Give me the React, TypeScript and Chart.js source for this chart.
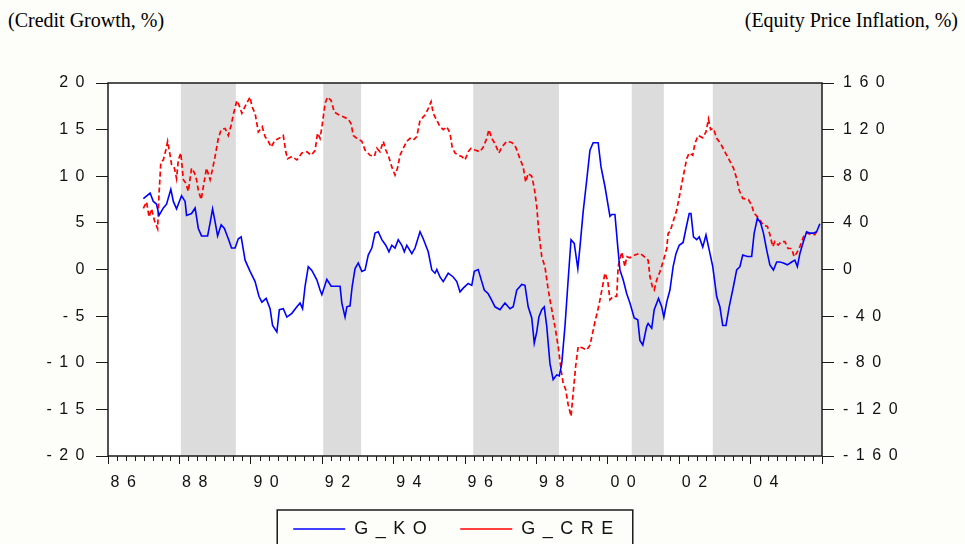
import { useEffect, useRef } from 'react';
import { Chart, registerables } from 'chart.js';

Chart.register(...registerables);

// G_KO: credit growth (%), left axis
const koYears = [
  1986.99, 1987.18, 1987.27, 1987.36, 1987.43, 1987.55, 1987.64, 1987.76, 1987.83, 1987.92,
  1988.06, 1988.16, 1988.2, 1988.34, 1988.44, 1988.53, 1988.62, 1988.79, 1988.86, 1988.93,
  1989.0, 1989.07, 1989.17, 1989.26, 1989.37, 1989.46, 1989.56, 1989.65, 1989.73, 1989.84,
  1989.98, 1990.12, 1990.23, 1990.31, 1990.43, 1990.54, 1990.61, 1990.73, 1990.8, 1990.91,
  1991.01, 1991.15, 1991.29, 1991.38, 1991.45, 1991.52, 1991.61, 1991.71, 1991.85, 1991.94,
  1991.99, 1992.13, 1992.25, 1992.5, 1992.55, 1992.64, 1992.69, 1992.78, 1992.84, 1992.92,
  1993.01, 1993.11, 1993.2, 1993.29, 1993.39, 1993.48, 1993.57, 1993.67, 1993.78, 1993.87,
  1993.95, 1994.04, 1994.13, 1994.23, 1994.3, 1994.37, 1994.51, 1994.6, 1994.74, 1994.83,
  1994.97, 1995.07, 1995.16, 1995.21, 1995.3, 1995.39, 1995.53, 1995.67, 1995.77, 1995.86,
  1995.95, 1996.09, 1996.19, 1996.26, 1996.37, 1996.47, 1996.54, 1996.65, 1996.75, 1996.84,
  1996.98, 1997.12, 1997.26, 1997.35, 1997.45, 1997.59, 1997.68, 1997.77, 1997.87, 1997.94,
  1998.01, 1998.07, 1998.15, 1998.22, 1998.29, 1998.38, 1998.47, 1998.57, 1998.64, 1998.71,
  1998.8, 1998.89, 1998.97, 1999.06, 1999.16, 1999.22, 1999.31, 1999.41, 1999.5, 1999.59,
  1999.73, 1999.81, 1999.92, 2000.06, 2000.11, 2000.2, 2000.28, 2000.34, 2000.43, 2000.53,
  2000.62, 2000.74, 2000.84, 2000.9, 2000.98, 2001.09, 2001.13, 2001.23, 2001.3, 2001.42,
  2001.51, 2001.57, 2001.65, 2001.74, 2001.83, 2001.91, 2002.0, 2002.11, 2002.19, 2002.28,
  2002.33, 2002.4, 2002.49, 2002.56, 2002.66, 2002.75, 2002.84, 2002.94, 2003.05, 2003.14,
  2003.22, 2003.31, 2003.4, 2003.52, 2003.61, 2003.7, 2003.78, 2003.91, 2004.03, 2004.1,
  2004.19, 2004.28, 2004.36, 2004.45, 2004.54, 2004.64, 2004.73, 2004.82, 2004.92, 2005.03,
  2005.15, 2005.24, 2005.31, 2005.38, 2005.48, 2005.57, 2005.66, 2005.76, 2005.85, 2005.94,
];
const koValues = [
  7.6, 8.2, 7.3, 7.0, 5.8, 6.6, 7.0, 8.6, 7.3, 6.5,
  7.9, 7.3, 5.8, 6.0, 6.6, 4.4, 3.6, 3.6, 5.0, 6.5,
  5.1, 3.6, 4.8, 4.4, 3.3, 2.3, 2.3, 3.3, 3.5, 1.0,
  -0.2, -1.3, -2.9, -3.5, -3.1, -4.2, -6.0, -6.7, -4.3, -4.2,
  -5.1, -4.7, -4.0, -3.6, -4.2, -1.8, 0.3, -0.1, -1.1, -2.2,
  -2.7, -1.05, -1.8, -1.8, -3.6, -5.1, -4.0, -3.9, -1.8, 0.1,
  0.7, -0.2, -0.05, 1.55, 2.3, 3.9, 4.05, 3.2, 2.6, 1.9,
  2.6, 2.3, 3.2, 2.6, 1.9, 2.6, 1.7, 2.3, 4.05, 3.3,
  1.9, -0.05, -0.4, 0, -0.8, -1.3, -0.4, -0.8, -1.3, -2.4,
  -2.0, -1.5, -1.7, -0.2, 0, -1.3, -2.2, -2.6, -3.3, -4.0,
  -4.3, -3.6, -4.2, -4.0, -2.2, -1.6, -1.7, -4.0, -5.2, -7.9,
  -6.7, -5.1, -4.3, -4.0, -6.1, -10.1, -11.8, -11.3, -11.4, -10.1,
  -6.1, -1.1, 3.2, 2.8, 0.1, 2.4, 6.2, 9.6, 12.8, 13.6,
  13.6, 11.0, 8.9, 5.7, 5.9, 5.9, 2.4, -0.05, -1.1, -2.6,
  -3.6, -5.2, -5.4, -7.6, -8.1, -6.1, -5.8, -6.3, -4.3, -3.1,
  -4.0, -5.1, -3.5, -2.2, 0.3, 1.7, 2.6, 2.9, 4.4, 6.0,
  6.0, 3.5, 3.2, 3.5, 2.4, 3.7, 2.1, 0.3, -2.9, -4.0,
  -6.0, -6.0, -4.0, -1.8, -0.05, 0.3, 1.55, 1.4, 1.4, 3.9,
  5.5, 5.0, 3.9, 2.1, 0.5, -0.05, 0.8, 0.8, 0.7, 0.5,
  0.8, 1.0, 0.3, 1.7, 3.0, 4.05, 3.9, 3.9, 4.05, 4.9,
];

// G_CRE: equity price inflation (%), right axis
const creYears = [
  1986.99, 1987.08, 1987.15, 1987.22, 1987.3, 1987.39, 1987.43, 1987.48, 1987.55, 1987.62,
  1987.67, 1987.74, 1987.78, 1987.86, 1987.92, 1987.97, 1988.04, 1988.11, 1988.18, 1988.25,
  1988.34, 1988.42, 1988.48, 1988.53, 1988.61, 1988.67, 1988.76, 1988.86, 1988.92, 1989.0,
  1989.09, 1989.17, 1989.28, 1989.37, 1989.45, 1989.52, 1989.61, 1989.67, 1989.75, 1989.84,
  1989.98, 1990.03, 1990.12, 1990.21, 1990.32, 1990.4, 1990.49, 1990.57, 1990.68, 1990.79,
  1990.91, 1990.98, 1991.03, 1991.15, 1991.29, 1991.43, 1991.57, 1991.69, 1991.8, 1991.87,
  1991.94, 1992.0, 1992.08, 1992.15, 1992.25, 1992.34, 1992.45, 1992.59, 1992.73, 1992.81,
  1992.87, 1992.97, 1993.11, 1993.2, 1993.34, 1993.46, 1993.53, 1993.62, 1993.71, 1993.78,
  1993.85, 1993.95, 1994.04, 1994.11, 1994.18, 1994.27, 1994.37, 1994.46, 1994.55, 1994.65,
  1994.74, 1994.88, 1994.97, 1995.05, 1995.11, 1995.21, 1995.3, 1995.39, 1995.49, 1995.58,
  1995.64, 1995.72, 1995.81, 1995.91, 1996.0, 1996.09, 1996.17, 1996.28, 1996.42, 1996.51,
  1996.61, 1996.67, 1996.75, 1996.84, 1996.95, 1997.03, 1997.17, 1997.31, 1997.42, 1997.54,
  1997.63, 1997.7, 1997.77, 1997.87, 1997.94, 1998.01, 1998.07, 1998.15, 1998.24, 1998.32,
  1998.38, 1998.45, 1998.52, 1998.61, 1998.69, 1998.75, 1998.82, 1998.89, 1998.97, 1999.03,
  1999.1, 1999.17, 1999.27, 1999.41, 1999.5, 1999.57, 1999.64, 1999.72, 1999.78, 1999.85,
  1999.92, 2000.0, 2000.06, 2000.15, 2000.25, 2000.29, 2000.39, 2000.48, 2000.53, 2000.62,
  2000.76, 2000.9, 2001.02, 2001.13, 2001.18, 2001.25, 2001.3, 2001.37, 2001.46, 2001.56,
  2001.65, 2001.69, 2001.74, 2001.83, 2001.93, 2002.02, 2002.11, 2002.21, 2002.28, 2002.38,
  2002.44, 2002.53, 2002.66, 2002.75, 2002.82, 2002.88, 2002.96, 2003.05, 2003.16, 2003.28,
  2003.4, 2003.52, 2003.61, 2003.68, 2003.78, 2003.94, 2004.03, 2004.1, 2004.17, 2004.26,
  2004.36, 2004.47, 2004.54, 2004.62, 2004.68, 2004.77, 2004.87, 2004.96, 2005.05, 2005.15,
  2005.22, 2005.29, 2005.38, 2005.48, 2005.57, 2005.68, 2005.8, 2005.85,
];
const creValues = [
  52.5, 58, 45, 52, 42, 35, 65, 92, 94, 102.5,
  110, 98, 90, 87, 78, 94, 100, 77, 74, 67,
  87, 83, 77, 68, 60, 71, 87, 77, 85, 97,
  112.5, 120, 121, 115, 124, 134, 145, 141, 134, 140,
  148, 140, 134, 118, 122.5, 114, 110, 105, 111, 112.5,
  115, 101, 95, 97, 94, 100, 101, 98, 102, 117,
  112.5, 124, 142.5, 148, 145, 135, 133, 131, 129, 125,
  115, 112.5, 110, 102.5, 98, 97, 104, 101, 110, 102.5,
  98, 88, 81, 87, 98, 104, 110, 112.5, 111, 114,
  128, 132.5, 138, 144, 134, 128, 122.5, 120, 122.5, 117,
  105, 100, 98, 97, 94, 101, 104, 102.5, 101, 105,
  112.5, 120, 112.5, 108, 100, 105, 110, 109, 105, 95,
  88, 75, 82.5, 80, 70, 54, 31, 11, 2.4, -15,
  -26, -37.5, -49, -66, -86, -97.6, -103, -116, -126, -106,
  -83, -66, -67, -69, -65, -55, -45, -35, -26, -15,
  -3, -10, -26, -23, -23, 2.4, 15, 2.4, 11, 10,
  12.5, 14, 11, 8, -6, -15, -17.6, -9, -2, 8,
  18, 31, 32.5, 41, 51, 65, 79.6, 95, 100, 98,
  108, 115, 113, 118, 129, 120, 121, 112.5, 108, 101,
  94, 87, 78, 68, 61, 60, 55, 48, 46, 42.5,
  38, 37, 30, 19.6, 24, 21, 24, 24, 18, 18,
  11, 14, 19.6, 28, 31.5, 30, 30, 32.5,
];

// Shaded periods (decimal years)
const shadeStarts = [1988.04, 1992.03, 1996.23, 2000.67, 2002.94];
const shadeEnds = [1989.58, 1993.09, 1998.63, 2001.57, 2006.0];

// Axis ranges
const yearMin = 1986;
const yearMax = 2006;
const yearStep = 2;
const creditMin = -20;
const creditMax = 20;
const creditStep = 5;
const equityMin = -160;
const equityMax = 160;
const equityStep = 40;

const seriesNames = ['G_KO', 'G_CRE'];
const leftTitle = '(Credit Growth, %)';
const rightTitle = '(Equity Price Inflation, %)';

const TEXT_SPACING = '7.5px';
const INK = '#111111';
const SANS = '"Liberation Sans", Arial, sans-serif';

const toPoints = (xs: number[], ys: number[]) =>
  xs.slice(0, Math.min(xs.length, ys.length)).map((x, i) => ({ x, y: ys[i] }));

const yearLabel = (v: number) => (v >= yearMax ? '' : String(Math.round(v) % 100).padStart(2, '0'));

// Wide letter spacing for all canvas text
const spacingPlugin = {
  id: 'spacing',
  beforeUpdate(chart: any) {
    chart.ctx.letterSpacing = TEXT_SPACING;
  },
  beforeLayout(chart: any) {
    chart.ctx.letterSpacing = TEXT_SPACING;
  },
  beforeDraw(chart: any) {
    chart.ctx.letterSpacing = TEXT_SPACING;
  },
};

// White plot area with grey shaded periods
const shadingPlugin = {
  id: 'shading',
  beforeDraw(chart: any) {
    const { ctx, chartArea, scales } = chart;
    const x = scales.x;
    ctx.save();
    ctx.fillStyle = '#ffffff';
    ctx.fillRect(chartArea.left, chartArea.top, chartArea.right - chartArea.left, chartArea.bottom - chartArea.top);
    ctx.fillStyle = '#dcdcdc';
    shadeStarts.forEach((s, i) => {
      const x0 = Math.max(x.getPixelForValue(s), chartArea.left);
      const x1 = Math.min(x.getPixelForValue(shadeEnds[i]), chartArea.right);
      ctx.fillRect(x0, chartArea.top, x1 - x0, chartArea.bottom - chartArea.top);
    });
    ctx.restore();
  },
};

// Plot frame, quarterly minor ticks and the legend border
const framePlugin = {
  id: 'frame',
  afterDatasetsDraw(chart: any) {
    const { ctx, chartArea } = chart;
    ctx.save();
    ctx.strokeStyle = '#1a1a1a';
    ctx.lineWidth = 1.5;
    ctx.strokeRect(chartArea.left, chartArea.top, chartArea.right - chartArea.left, chartArea.bottom - chartArea.top);
    ctx.restore();
  },
  afterDraw(chart: any) {
    const { ctx, chartArea, scales } = chart;
    const x = scales.x;
    ctx.save();
    ctx.strokeStyle = '#1a1a1a';
    ctx.lineWidth = 1;
    ctx.beginPath();
    for (let q = yearMin * 4; q <= yearMax * 4; q++) {
      const t = q / 4;
      if (q % (yearStep * 4) === 0) continue;
      const px = Math.round(x.getPixelForValue(t)) + 0.5;
      ctx.moveTo(px, chartArea.bottom);
      ctx.lineTo(px, chartArea.bottom + 5);
    }
    ctx.stroke();

    const boxes = chart.legend && chart.legend.legendHitBoxes;
    if (boxes && boxes.length) {
      const first = boxes[0];
      const last = boxes[boxes.length - 1];
      const left = first.left - 16;
      const right = last.left + last.width + 12;
      const top = first.top - 10;
      ctx.strokeStyle = '#1a1a1a';
      ctx.lineWidth = 1.5;
      ctx.strokeRect(left, top, right - left, chart.height + 20 - top);
    }
    ctx.restore();
  },
};

export default function App() {
  const canvasRef = useRef<HTMLCanvasElement | null>(null);

  useEffect(() => {
    const canvas = canvasRef.current;
    if (!canvas) return;
    const chart = new Chart(canvas, {
      type: 'line',
      data: {
        datasets: [
          {
            label: seriesNames[0],
            data: toPoints(koYears, koValues),
            yAxisID: 'y',
            borderColor: '#0000ff',
            backgroundColor: '#0000ff',
            borderWidth: 1.6,
            pointRadius: 0,
            tension: 0,
          },
          {
            label: seriesNames[1],
            data: toPoints(creYears, creValues),
            yAxisID: 'y2',
            borderColor: '#ff0000',
            backgroundColor: '#ff0000',
            borderWidth: 1.7,
            borderDash: [5, 3],
            pointRadius: 0,
            tension: 0,
          },
        ],
      },
      options: {
        animation: false,
        responsive: false,
        devicePixelRatio: 1,
        events: [],
        layout: { padding: { top: 83, left: 0, right: 51, bottom: 0 } },
        scales: {
          x: {
            type: 'linear',
            min: yearMin,
            max: yearMax,
            border: { display: false },
            grid: { drawOnChartArea: false, drawTicks: true, tickLength: 8, color: '#1a1a1a', lineWidth: 1 },
            ticks: {
              stepSize: yearStep,
              autoSkip: false,
              maxRotation: 0,
              minRotation: 0,
              labelOffset: 19,
              padding: 9,
              color: INK,
              font: { family: SANS, size: 16 },
              callback: (v: any) => yearLabel(Number(v)),
            },
            afterFit: (s: any) => {
              s.height = 38;
            },
          },
          y: {
            position: 'left',
            min: creditMin,
            max: creditMax,
            border: { display: false },
            grid: { drawOnChartArea: false, drawTicks: true, tickLength: 12, color: '#1a1a1a', lineWidth: 1 },
            ticks: {
              stepSize: creditStep,
              padding: 4,
              color: INK,
              font: { family: SANS, size: 16 },
              callback: (v: any) => String(v),
            },
            afterFit: (s: any) => {
              s.width = 108;
            },
          },
          y2: {
            position: 'right',
            min: equityMin,
            max: equityMax,
            border: { display: false },
            grid: { drawOnChartArea: false, drawTicks: true, tickLength: 12, color: '#1a1a1a', lineWidth: 1 },
            ticks: {
              stepSize: equityStep,
              padding: 9,
              color: INK,
              font: { family: SANS, size: 16 },
              callback: (v: any) => String(v),
            },
            afterFit: (s: any) => {
              s.width = 92;
            },
          },
        },
        plugins: {
          legend: {
            display: true,
            position: 'bottom',
            align: 'center',
            labels: {
              usePointStyle: true,
              pointStyle: 'line',
              pointStyleWidth: 52,
              padding: 26,
              color: INK,
              font: { family: SANS, size: 18 },
            },
          },
          tooltip: { enabled: false },
        },
      },
      plugins: [spacingPlugin, shadingPlugin, framePlugin],
    } as any);
    return () => chart.destroy();
  }, []);

  const titleStyle: React.CSSProperties = {
    position: 'absolute',
    top: 10,
    font: '20px "Liberation Serif", "Times New Roman", serif',
    lineHeight: '20px',
    color: '#000',
    whiteSpace: 'nowrap',
  };

  return (
    <div
      style={{
        position: 'fixed',
        left: 0,
        top: 0,
        width: 965,
        height: 544,
        overflow: 'hidden',
        background: '#fdfdf9',
      }}
    >
      <div style={{ ...titleStyle, left: 8 }}>{leftTitle}</div>
      <div style={{ ...titleStyle, right: 7 }}>{rightTitle}</div>
      <canvas
        ref={canvasRef}
        width={965}
        height={548}
        style={{ position: 'absolute', left: 0, top: 0, width: 965, height: 548 }}
      />
    </div>
  );
}
